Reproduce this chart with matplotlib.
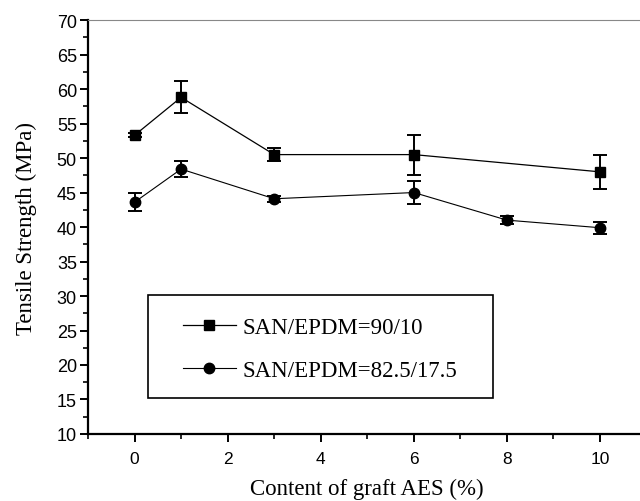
import matplotlib.pyplot as plt
from matplotlib.patches import Rectangle
from matplotlib.lines import Line2D
from matplotlib.ticker import MultipleLocator

# data
x_9010 = [0, 1, 3, 6, 10]
y_9010 = [53.3, 58.8, 50.5, 50.5, 48.0]
err_9010 = [0.3, 2.3, 1.0, 2.9, 2.5]

x_825 = [0, 1, 3, 6, 8, 10]
y_825 = [43.6, 48.4, 44.1, 45.0, 41.0, 39.9]
err_825 = [1.3, 1.2, 0.4, 1.7, 0.6, 0.9]

labels = ['SAN/EPDM=90/10', 'SAN/EPDM=82.5/17.5']

serif = 'Liberation Serif'
sans = 'Liberation Sans'

fig = plt.figure(figsize=(6.4, 5.02), dpi=100)
ax = fig.add_axes([0.1375, 0.1335, 1.0103 - 0.1375, 0.958 - 0.1335])

ax.errorbar(x_9010, y_9010, yerr=err_9010, color='black', marker='s',
            markersize=6.5, linewidth=0.9, elinewidth=1.4, capsize=5,
            capthick=1.4)
ax.errorbar(x_825, y_825, yerr=err_825, color='black', marker='o',
            markersize=7.5, linewidth=0.8, elinewidth=1.4, capsize=5,
            capthick=1.4)

ax.set_xlim(-1, 11)
ax.set_ylim(10, 70)
ax.xaxis.set_major_locator(MultipleLocator(2))
ax.xaxis.set_minor_locator(MultipleLocator(1))
ax.yaxis.set_major_locator(MultipleLocator(5))
ax.yaxis.set_minor_locator(MultipleLocator(2.5))
ax.tick_params(which='major', direction='out', length=6, width=1.4)
ax.tick_params(which='minor', direction='out', length=3.5, width=1.2)
ax.tick_params(axis='y', labelsize=13, pad=2)
ax.tick_params(axis='x', labelsize=12.5, pad=6)
for t in ax.get_xticklabels() + ax.get_yticklabels():
    t.set_fontfamily(sans)

ax.spines['left'].set_linewidth(1.6)
ax.spines['bottom'].set_linewidth(1.6)
ax.spines['right'].set_visible(False)
ax.spines['top'].set_linewidth(0.8)
ax.spines['top'].set_color('#888888')

ax.set_xlabel('Content of graft AES (%)', fontfamily=serif, fontsize=16.5, labelpad=9)
ax.set_ylabel('Tensile Strength (MPa)', fontfamily=serif, fontsize=16.5, labelpad=14)

# legend frame drawn as a plain box
ax.add_patch(Rectangle((0.28, 15.2), 7.42, 15.0, fill=False, edgecolor='black',
                       linewidth=1.2, zorder=3))
handles = [Line2D([], [], color='black', marker='s', markersize=6.5, linewidth=0.9),
           Line2D([], [], color='black', marker='o', markersize=7.5, linewidth=0.8)]
ax.legend(handles=handles, labels=labels, loc='center left',
          bbox_to_anchor=(0.133, 0.205), frameon=False,
          prop={'family': serif, 'size': 16.5}, handlelength=2.3,
          handletextpad=0.3, labelspacing=0.95)

fig.savefig('out.png', dpi=100, facecolor='white')
